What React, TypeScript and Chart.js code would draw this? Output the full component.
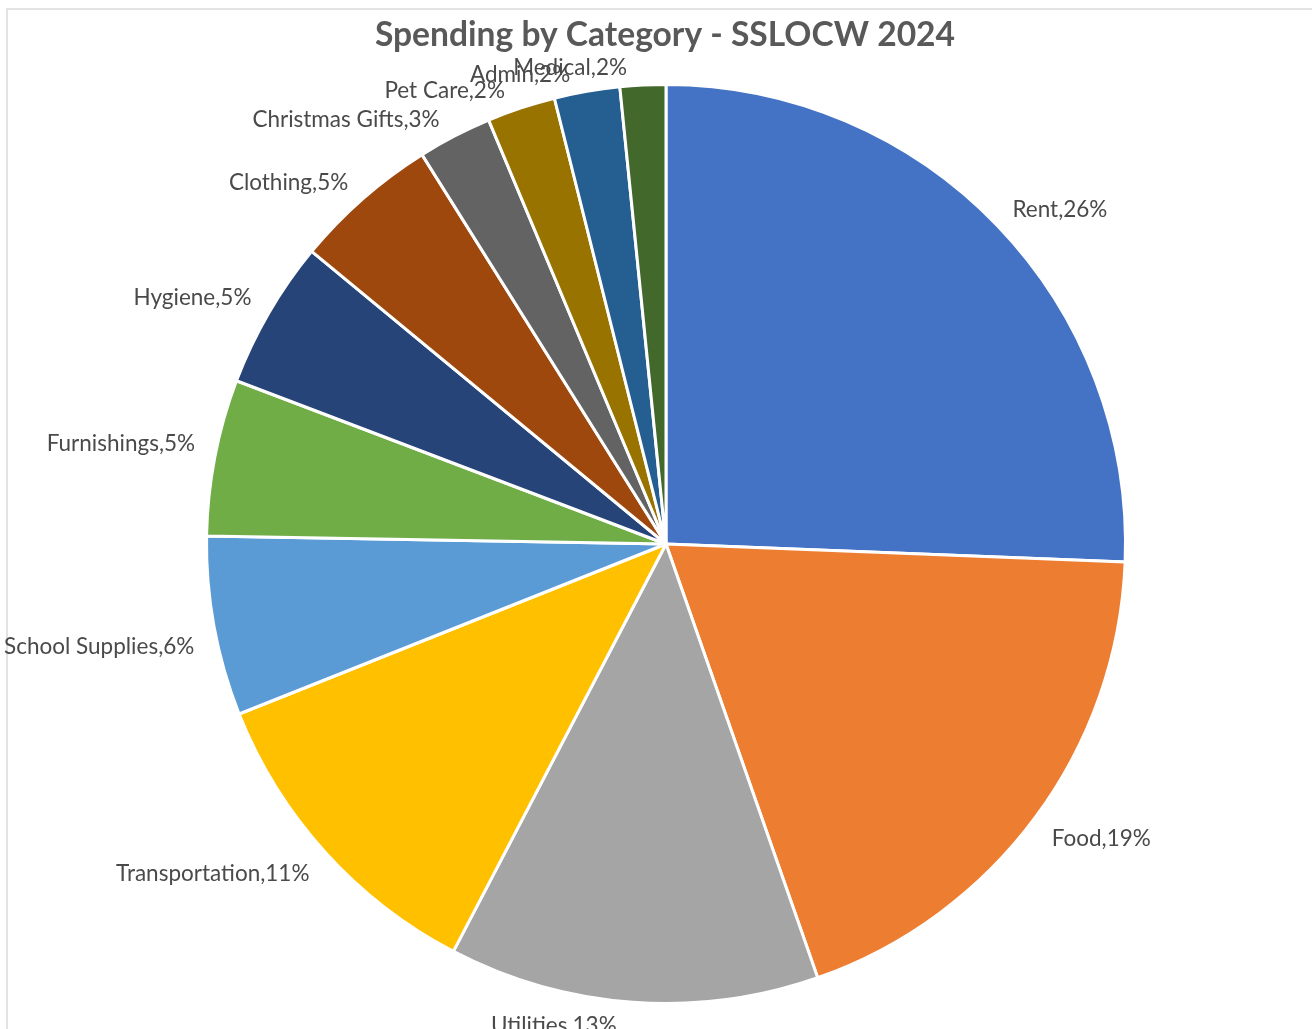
import React, { useEffect, useRef } from "react";
import { Chart, registerables } from "chart.js";

Chart.register(...registerables);

const TITLE = "Spending by Category - SSLOCW 2024";
const categories = [
  "Rent",
  "Food",
  "Utilities",
  "Transportation",
  "School Supplies",
  "Furnishings",
  "Hygiene",
  "Clothing",
  "Christmas Gifts",
  "Pet Care",
  "Admin",
  "Medical",
];
const shares = [25.6, 19.0, 13.0, 11.3, 6.3, 5.5, 5.2, 5.1, 2.6, 2.4, 2.3, 1.6];
const percentLabels = ["26%", "19%", "13%", "11%", "6%", "5%", "5%", "5%", "3%", "2%", "2%", "2%"];
const sliceColors = [
  "#4472C4",
  "#ED7D31",
  "#A5A5A5",
  "#FFC000",
  "#5B9BD5",
  "#70AD47",
  "#264478",
  "#9E480E",
  "#636363",
  "#997300",
  "#255E91",
  "#43682B",
];

const W = 1312;
const H = 1029;

const framePlugin = {
  id: "frame",
  beforeDraw(chart: any) {
    const ctx = chart.ctx;
    ctx.save();
    ctx.fillStyle = "#ffffff";
    ctx.fillRect(0, 0, chart.width, chart.height);
    ctx.strokeStyle = "#e3e3e3";
    ctx.lineWidth = 2;
    ctx.beginPath();
    ctx.moveTo(7, chart.height);
    ctx.lineTo(7, 9);
    ctx.lineTo(chart.width, 9);
    ctx.stroke();
    ctx.restore();
  },
};

const labelPlugin = {
  id: "outsideLabels",
  afterDatasetsDraw(chart: any) {
    const ctx = chart.ctx;
    const meta = chart.getDatasetMeta(0);
    ctx.save();
    // title
    ctx.font = 'bold 33.6px Lato, "Liberation Sans", sans-serif';
    ctx.fillStyle = "#595959";
    ctx.textAlign = "center";
    ctx.textBaseline = "middle";
    ctx.fillText(TITLE, 665, 35);

    ctx.font = '22.5px Lato, "Liberation Sans", sans-serif';
    ctx.fillStyle = "#4a4a4a";
    meta.data.forEach((arc: any, i: number) => {
      const mid = (arc.startAngle + arc.endAngle) / 2;
      const c = Math.cos(mid);
      const s = Math.sin(mid);
      const r = arc.outerRadius + 20;
      let x = arc.x + r * c;
      let y = arc.y + r * s;
      const sAbs = Math.abs(s);
      const xShift = 15 * Math.pow(sAbs, 8);
      const right = c > 0.05;
      if (right) {
        ctx.textAlign = "left";
        x += xShift;
      } else {
        ctx.textAlign = "right";
        x -= xShift;
      }
      y += Math.sign(s) * (1 - sAbs) * 16 + 3;
      ctx.fillText(categories[i] + "," + percentLabels[i], x, y);
    });
    ctx.restore();
  },
};

export default function App() {
  const ref = useRef<HTMLCanvasElement | null>(null);

  useEffect(() => {
    document.body.style.margin = "0";
    const canvas = ref.current;
    if (!canvas) return;
    const chart = new Chart(canvas, {
      type: "pie",
      data: {
        labels: categories,
        datasets: [
          {
            data: shares,
            backgroundColor: sliceColors,
            borderColor: "#ffffff",
            borderWidth: 3,
            hoverOffset: 0,
            offset: 0,
          },
        ],
      },
      options: {
        responsive: false,
        animation: false,
        events: [],
        layout: {
          padding: { left: 205, right: 185, top: 83, bottom: 24 },
        },
        plugins: {
          legend: { display: false },
          tooltip: { enabled: false },
          title: { display: false },
        },
      },
      plugins: [framePlugin, labelPlugin],
    });
    return () => chart.destroy();
  }, []);

  return (
    <div style={{ position: "fixed", left: 0, top: 0, width: W, height: H, background: "#fff" }}>
      <canvas ref={ref} width={W} height={H} style={{ width: W, height: H, display: "block" }} />
    </div>
  );
}
